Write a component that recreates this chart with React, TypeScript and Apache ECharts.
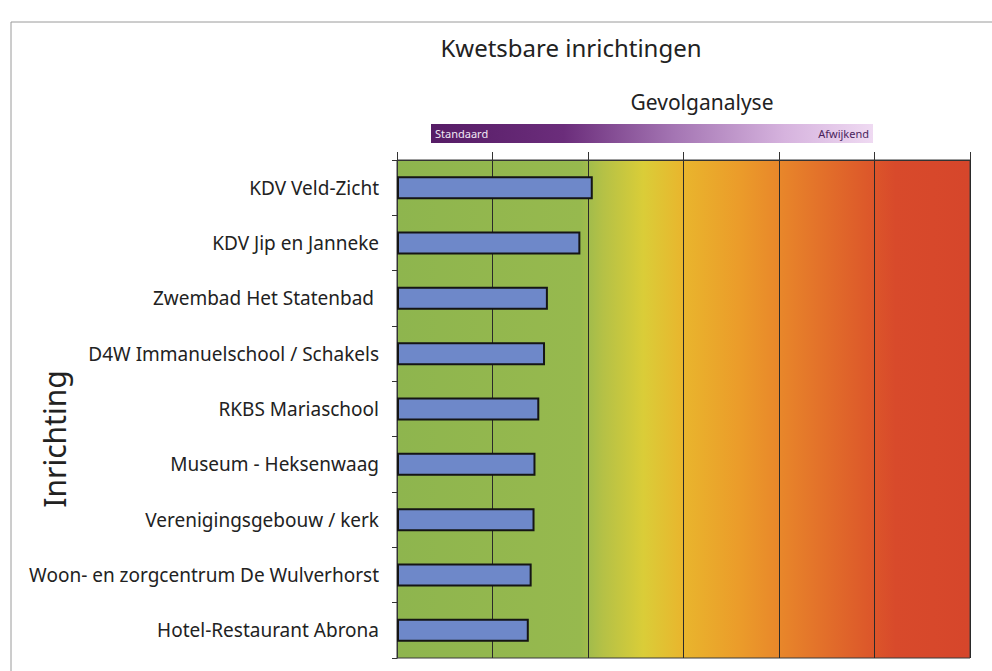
import React, { useEffect, useRef } from "react";
import * as echarts from "echarts";

const categories = [
  "KDV Veld-Zicht",
  "KDV Jip en Janneke",
  "Zwembad Het Statenbad ",
  "D4W Immanuelschool / Schakels",
  "RKBS Mariaschool",
  "Museum - Heksenwaag",
  "Verenigingsgebouw / kerk",
  "Woon- en zorgcentrum De Wulverhorst",
  "Hotel-Restaurant Abrona",
];
const values = [2.05, 1.92, 1.58, 1.55, 1.49, 1.45, 1.44, 1.41, 1.38];
const axisMin = 0;
const axisMax = 6;
const axisInterval = 1;
const titleText = "Kwetsbare inrichtingen";
const subTitleText = "Gevolganalyse";
const scaleLow = "Standaard";
const scaleHigh = "Afwijkend";
const yAxisTitle = "Inrichting";

const FONT = "'Noto Sans', 'DejaVu Sans', sans-serif";

export default function App() {
  const ref = useRef<HTMLDivElement>(null);
  useEffect(() => {
    if (!ref.current) return;
    const chart = echarts.init(ref.current, undefined, { renderer: "svg" });
    const bg = new echarts.graphic.LinearGradient(0, 0, 1, 0, [
      { offset: 0, color: "#8eb54e" },
      { offset: 0.32, color: "#97b94e" },
      { offset: 0.36, color: "#b5c146" },
      { offset: 0.43, color: "#dacd38" },
      { offset: 0.5, color: "#e9b52d" },
      { offset: 0.6, color: "#eb9b2a" },
      { offset: 0.67, color: "#e8862a" },
      { offset: 0.83, color: "#dc562a" },
      { offset: 0.87, color: "#d84a2b" },
      { offset: 1, color: "#d6462b" },
    ]);
    const legendGrad = new echarts.graphic.LinearGradient(0, 0, 1, 0, [
      { offset: 0, color: "#561c66" },
      { offset: 0.3, color: "#6b2d7b" },
      { offset: 0.55, color: "#a475b3" },
      { offset: 0.8, color: "#d6b3de" },
      { offset: 1, color: "#efdaf2" },
    ]);
    chart.setOption({
      animation: false,
      backgroundColor: "#ffffff",
      textStyle: { fontFamily: FONT },
      grid: {
        left: 397,
        right: 22,
        top: 160,
        bottom: 13,
        show: true,
        backgroundColor: bg,
        borderColor: "#3a3a3a",
        borderWidth: 1,
        containLabel: false,
      },
      xAxis: {
        type: "value",
        position: "top",
        min: axisMin,
        max: axisMax,
        interval: axisInterval,
        axisLabel: { show: false },
        axisLine: { show: true, lineStyle: { color: "#333", width: 1 } },
        axisTick: { show: true, length: 8, lineStyle: { color: "#333", width: 1 } },
        splitLine: { show: true, lineStyle: { color: "#2a2a2a", width: 1 } },
      },
      yAxis: {
        type: "category",
        data: categories,
        inverse: true,
        axisLine: { show: true, lineStyle: { color: "#333", width: 1 } },
        axisTick: { show: true, length: 5, lineStyle: { color: "#333" } },
        axisLabel: {
          margin: 18,
          color: "#222",
          fontSize: 19,
          fontFamily: FONT,
        },
      },
      series: [
        {
          type: "bar",
          data: values,
          barWidth: 23,
          itemStyle: {
            color: "#6e88c9",
            borderColor: "#151515",
            borderWidth: 2,
          },
        },
      ],
      graphic: [
        {
          type: "rect",
          shape: { x: 11, y: 22, width: 1000, height: 700 },
          style: { fill: "none", stroke: "#9a9a9a", lineWidth: 1 },
          silent: true,
        },
        {
          type: "text",
          x: 571,
          y: 47,
          style: {
            text: titleText,
            fontSize: 24,
            fontFamily: FONT,
            fill: "#222",
            align: "center",
            verticalAlign: "middle",
          },
        },
        {
          type: "text",
          x: 702,
          y: 102,
          style: {
            text: subTitleText,
            fontSize: 21,
            fontFamily: FONT,
            fill: "#222",
            align: "center",
            verticalAlign: "middle",
          },
        },
        {
          type: "rect",
          shape: { x: 431, y: 124, width: 442, height: 19 },
          style: { fill: legendGrad },
        },
        {
          type: "text",
          x: 435,
          y: 133.5,
          style: {
            text: scaleLow,
            fontSize: 11,
            fontFamily: FONT,
            fill: "#f2e8f4",
            align: "left",
            verticalAlign: "middle",
          },
        },
        {
          type: "text",
          x: 869,
          y: 133.5,
          style: {
            text: scaleHigh,
            fontSize: 11,
            fontFamily: FONT,
            fill: "#4a1f5c",
            align: "right",
            verticalAlign: "middle",
          },
        },
        {
          type: "text",
          x: 54,
          y: 439,
          rotation: Math.PI / 2,
          style: {
            text: yAxisTitle,
            fontSize: 30,
            fontFamily: FONT,
            fill: "#222",
            align: "center",
            verticalAlign: "middle",
          },
        },
      ],
    });
    return () => chart.dispose();
  }, []);
  return (
    <div
      ref={ref}
      style={{ position: "fixed", left: 0, top: 0, width: 992, height: 671 }}
    />
  );
}
